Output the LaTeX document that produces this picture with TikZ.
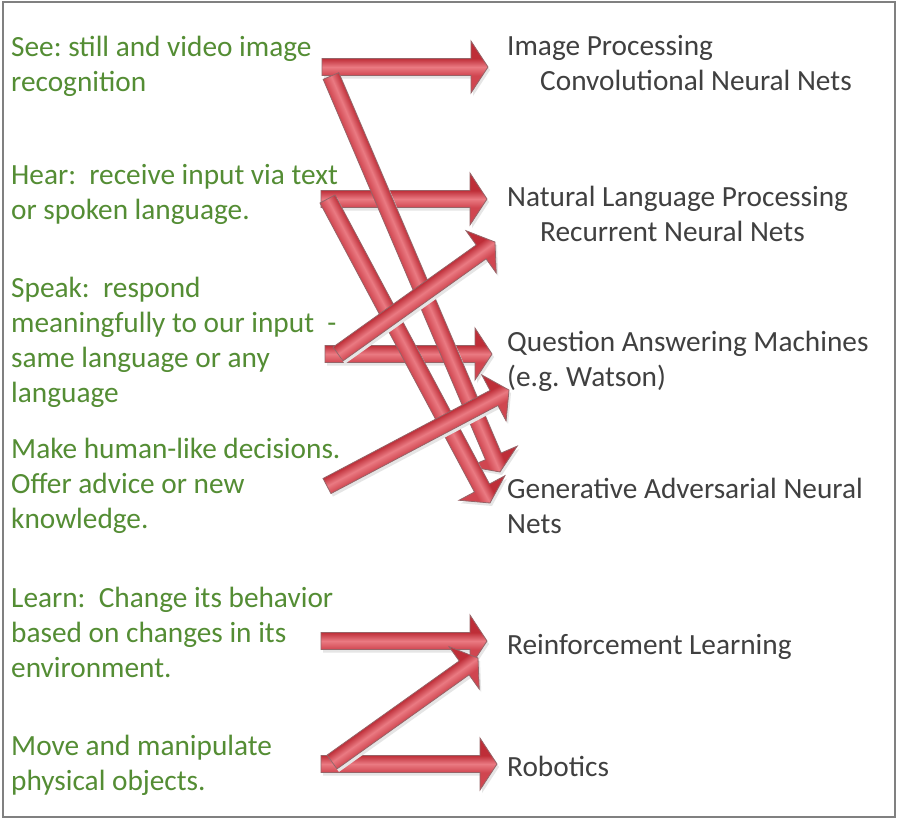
\documentclass[tikz,border=0pt]{standalone}
\usepackage{fontspec}
\setmainfont{Carlito}
\usepackage{xcolor}
\usetikzlibrary{calc}

\definecolor{sgreen}{RGB}{84,141,52}
\definecolor{tgray}{RGB}{64,64,64}
\definecolor{ardark}{RGB}{190,46,56}
\definecolor{armid}{RGB}{208,70,80}
\definecolor{arlight}{RGB}{234,122,130}
\definecolor{arline}{RGB}{150,100,104}

\pgfdeclareverticalshading{arrowshade}{100bp}{color(0bp)=(armid); color(25bp)=(armid); color(41.8bp)=(armid); color(50bp)=(arlight); color(58.2bp)=(ardark); color(75bp)=(ardark); color(100bp)=(ardark)}

\tikzset{
  lefttext/.style={anchor=north west,inner sep=0,align=left,text=sgreen,font=\fontsize{29.3}{35}\selectfont,execute at begin node=\strut},
  righttext/.style={lefttext,text=tgray},
  redarrow/.style={shade,shading=arrowshade,draw=arline,line width=0.8pt},
  arrowshadow/.style={fill=black!10}
}

% block arrow from #1 to #2
\newcommand\redarrow[2]{%
  \path let \p1=($(#2)-(#1)$) in
    \pgfextra{\pgfmathsetmacro\tmplen{veclen(\x1,\y1)}\pgfmathsetmacro\tmpang{atan2(\y1,\x1)}\xdef\arrlen{\tmplen}\xdef\arrang{\tmpang}};
  \begin{scope}[transform canvas={shift={(#1)},shift={(2pt,-3pt)},rotate=\arrang}]
    \fill[arrowshadow] (0pt,-8.5pt) -- (\arrlen pt-17pt,-8.5pt) -- (\arrlen pt-17pt,-26pt) -- (\arrlen pt,0pt) -- (\arrlen pt-17pt,26pt) -- (\arrlen pt-17pt,8.5pt) -- (0pt,8.5pt) -- cycle;
  \end{scope}
  \begin{scope}[transform canvas={shift={(#1)},rotate=\arrang}]
    \path[redarrow] (0pt,-8.5pt) -- (\arrlen pt-17pt,-8.5pt) -- (\arrlen pt-17pt,-26pt) -- (\arrlen pt,0pt) -- (\arrlen pt-17pt,26pt) -- (\arrlen pt-17pt,8.5pt) -- (0pt,8.5pt) -- cycle;
  \end{scope}}

\begin{document}
\frenchspacing
\begin{tikzpicture}[x=1pt,y=-1pt]
\fill[white] (0,0) rectangle (900,823);
\useasboundingbox (0,0) rectangle (900,823);
\draw[line width=2pt,black!50] (3,2) rectangle (895,817);

% Abilities
\node[lefttext] (see) at (11,35.5) {See: still and video image\\recognition};
\node[lefttext] (hear) at (11,164.5) {Hear:~ receive input via text\\or spoken language.};
\node[lefttext] (speak) at (11,276.5) {Speak:~ respond\\meaningfully to our input~ -\\same language or any\\language};
\node[lefttext] (decide) at (11,437.5) {Make human-like decisions.\\Offer advice or new\\knowledge.};
\node[lefttext] (learn) at (11,586.5) {Learn:~ Change its behavior\\based on changes in its\\environment.};
\node[lefttext] (move) at (11,734.5) {Move and manipulate\\physical objects.};

% Techniques
\node[righttext] (imgproc) at (507,35.5) {Image Processing\\\hspace*{33pt}Convolutional Neural Nets};
\node[righttext] (nlp) at (507,185.5) {Natural Language Processing\\\hspace*{33pt}Recurrent Neural Nets};
\node[righttext] (qa) at (507,330.5) {Question Answering Machines\\(e.g. Watson)};
\node[righttext] (gan) at (507,477.5) {Generative Adversarial Neural\\Nets};
\node[righttext] (rl) at (507,629.5) {Reinforcement Learning};
\node[righttext] (robo) at (507,751.5) {Robotics};

% Arrow ends
\coordinate (see1) at (322,67);
\coordinate (see2) at (331,76);
\coordinate (hear1) at (321,199);
\coordinate (hear2) at (327.5,199);
\coordinate (speak1) at (325,354);
\coordinate (speak2) at (338,354);
\coordinate (decide1) at (327,486);
\coordinate (learn1) at (321,641);
\coordinate (move1) at (321,764);
\coordinate (move2) at (332,762);
\coordinate (img-in) at (488,67);
\coordinate (nlp-in) at (487,199);
\coordinate (rnn-in) at (495,242);
\coordinate (qa-in) at (492,354);
\coordinate (qa-in2) at (509,390);
\coordinate (gan-in) at (500,472);
\coordinate (gan-in2) at (490,503);
\coordinate (rl-in) at (487,641);
\coordinate (rl-in2) at (478,658);
\coordinate (robo-in) at (497,764);

% Arrows
\redarrow{see1}{img-in}
\redarrow{hear1}{nlp-in}
\redarrow{speak1}{qa-in}
\redarrow{learn1}{rl-in}
\redarrow{move1}{robo-in}
\redarrow{see2}{gan-in}
\redarrow{hear2}{gan-in2}
\redarrow{speak2}{rnn-in}
\redarrow{decide1}{qa-in2}
\redarrow{move2}{rl-in2}
\end{tikzpicture}
\end{document}
